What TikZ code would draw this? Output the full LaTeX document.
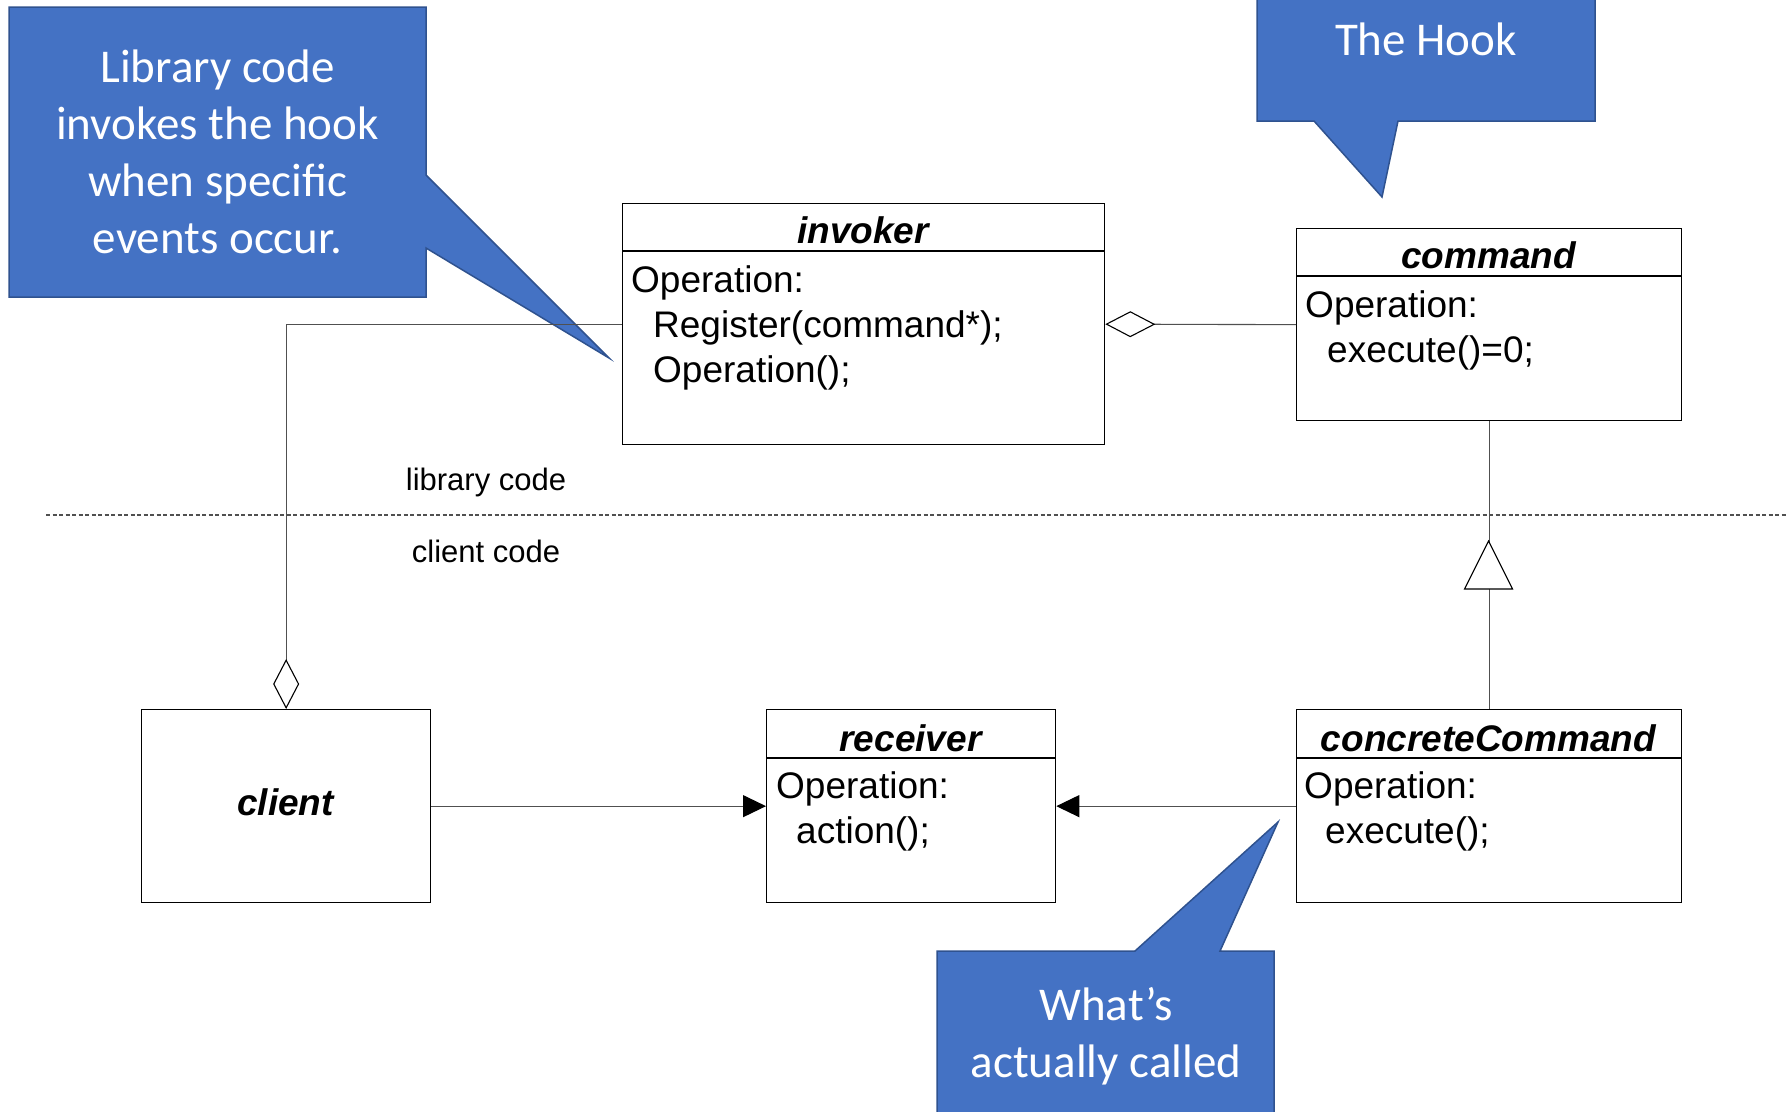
\documentclass[tikz,border=0pt]{standalone}
\usepackage{fontspec}
\setmainfont{Liberation Sans}
\newfontfamily\callfont{Carlito}
\usetikzlibrary{arrows.meta}
\definecolor{callblue}{HTML}{4472C4}
\definecolor{callborder}{HTML}{2F528F}
\definecolor{conn}{HTML}{505050}
\begin{document}
\begin{tikzpicture}[x=1pt,y=-1pt,
  classbox/.style={draw=black, line width=1.3pt, inner sep=0pt, anchor=north west},
  title/.style={anchor=base, inner sep=0pt, font=\fontsize{37}{45}\selectfont\bfseries\itshape},
  body/.style={anchor=base west, inner sep=0pt, font=\fontsize{37}{45}\selectfont},
  codelabel/.style={anchor=base, inner sep=0pt, font=\fontsize{31}{37}\selectfont},
  callout/.style={fill=callblue, draw=callborder, line width=1.5pt, line join=miter},
  calltext/.style={anchor=base, inner sep=0pt, text=white, font=\fontsize{47}{57}\callfont},
  connector/.style={draw=conn, line width=1.1pt},
  aggr/.style={-{Diamond[open, length=50pt, width=26pt, line width=1.1pt, color=black]}},
  assoc/.style={-{Triangle[length=23pt, width=22pt, color=black]}},
  divider/.style={draw=conn, line width=1.4pt, dash pattern=on 4pt off 2.5pt}
]
\useasboundingbox (0,0) rectangle (1787,1111);

% ---- callouts ----
\path[callout] (9,7) -- (426,7) -- (426,175) -- (609,358) -- (426,248) -- (426,297) -- (9,297) -- cycle;
\node[calltext] (c1a) at (217.5,82) {Library code};
\node[calltext] (c1b) at (217.5,139) {invokes the hook};
\node[calltext] (c1c) at (217.5,196) {when specific};
\node[calltext] (c1d) at (217.5,253) {events occur.};

\path[callout] (1257,-5) -- (1595,-5) -- (1595,121) -- (1398,121) -- (1382,197) -- (1314,121) -- (1257,121) -- cycle;
\node[calltext] (c2) at (1426,55) {The Hook};

\path[callout] (937,951) -- (1135,951) -- (1278,822) -- (1220,951) -- (1274,951) -- (1274,1116) -- (937,1116) -- cycle;
\node[calltext] (c3a) at (1106,1020) {What’s};
\node[calltext] (c3b) at (1106,1077) {actually called};

% ---- library / client divider ----
\coordinate (dl) at (46,515);
\coordinate (dr) at (1787,515);
\draw[divider] (dl) -- (dr);
\node[codelabel] (lib) at (486,490) {library code};
\node[codelabel] (cli) at (486,562) {client code};

% ---- classes ----
\node[classbox, minimum width=482pt, minimum height=241pt] (invoker) at (622,203) {};
\draw[line width=1.3pt] (622,251) -- (1104,251);
\node[title] (invokerT) at (863,243) {invoker};
\node[body] (inv1) at (631,292) {Operation:};
\node[body] (inv2) at (653,337) {Register(command*);};
\node[body] (inv3) at (653,382) {Operation();};

\node[classbox, minimum width=385pt, minimum height=192pt] (command) at (1296,228) {};
\draw[line width=1.3pt] (1296,276) -- (1681,276);
\node[title] (commandT) at (1488.5,268) {command};
\node[body] (cmd1) at (1305,317) {Operation:};
\node[body] (cmd2) at (1327,362) {execute()=0;};

\node[classbox, minimum width=289pt, minimum height=193pt] (client) at (141,709) {};
\node[title] (clientT) at (285.5,815) {client};

\node[classbox, minimum width=289pt, minimum height=193pt] (receiver) at (766,709) {};
\draw[line width=1.3pt] (766,758) -- (1055,758);
\node[title] (receiverT) at (910.5,751) {receiver};
\node[body] (rec1) at (776,798) {Operation:};
\node[body] (rec2) at (796,843) {action();};

\node[classbox, minimum width=385pt, minimum height=193pt] (concrete) at (1296,709) {};
\draw[line width=1.3pt] (1296,758) -- (1681,758);
\node[title] (concreteT) at (1488.5,751) {concreteCommand};
\node[body] (con1) at (1304,798) {Operation:};
\node[body] (con2) at (1325,843) {execute();};

% ---- connectors ----
\draw[connector, aggr] (command.west) -- (invoker.east);
\draw[connector, aggr] (invoker.west) -| (client.north);
\draw[connector, assoc] (client.east) -- (receiver.west);
\draw[connector, assoc] (concrete.west) -- (receiver.east);
\draw[connector] (command.south) -- (concrete.north);
\coordinate (tritip) at (1488.5,541);
\draw[line width=1.1pt, draw=black, fill=white, line join=miter] (tritip) -- ++(24,48) -- ++(-48,0) -- cycle;
\end{tikzpicture}
\end{document}
